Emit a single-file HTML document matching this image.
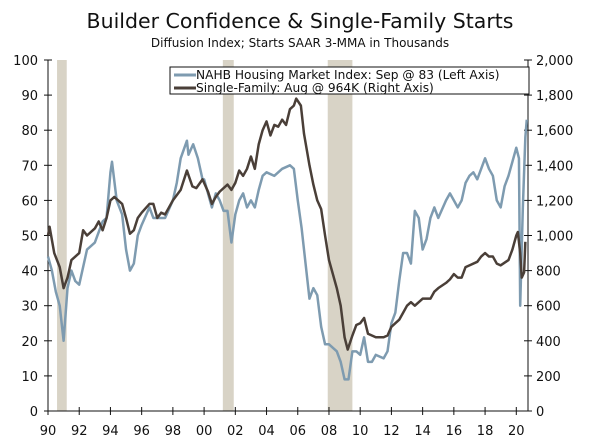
<!DOCTYPE html>
<html><head><meta charset="utf-8"><style>
body{margin:0;background:#fff;font-family:"DejaVu Sans","Liberation Sans",sans-serif;}
svg text{fill:#111;}
</style></head><body>
<svg id="chart" width="600" height="440" viewBox="0 0 600 440">
<text x="300" y="28" text-anchor="middle" font-size="20.5">Builder Confidence &amp; Single-Family Starts</text>
<text x="300" y="47" text-anchor="middle" font-size="12">Diffusion Index; Starts SAAR 3-MMA in Thousands</text>
<g id="rec"></g><g id="axes"></g><g id="lines"></g>
<g>
<rect x="170" y="67" width="359" height="27" fill="#fff" stroke="#111" stroke-width="1"/>
<line x1="174" y1="75" x2="196" y2="75" stroke="#7e9bb0" stroke-width="3"/>
<text x="196" y="79" font-size="12.2">NAHB Housing Market Index: Sep @ 83 (Left Axis)</text>
<line x1="174" y1="88" x2="196" y2="88" stroke="#4a3f38" stroke-width="3"/>
<text x="196" y="92" font-size="12.2">Single-Family: Aug @ 964K (Right Axis)</text>
</g>
</svg>
<script>
const recessions=[[1990.58,1991.2],[2001.2,2001.9],[2007.92,2009.5]];
const leftTicks=[0,10,20,30,40,50,60,70,80,90,100];
const rightTicks=["0","200","400","600","800","1,000","1,200","1,400","1,600","1,800","2,000"];
const rightTickValues=[0,200,400,600,800,1000,1200,1400,1600,1800,2000];
const yearTicks=[1990,1992,1994,1996,1998,2000,2002,2004,2006,2008,2010,2012,2014,2016,2018,2020];
const hmiX=[1990,1990.25,1990.5,1990.75,1991,1991.25,1991.5,1991.75,1992,1992.5,1993,1993.5,1993.75,1994,1994.1,1994.4,1994.75,1995,1995.25,1995.5,1995.75,1996,1996.5,1996.75,1997,1997.5,1998,1998.25,1998.5,1998.9,1999,1999.3,1999.6,1999.9,2000,2000.25,2000.5,2000.75,2001,2001.25,2001.5,2001.75,2002,2002.25,2002.5,2002.75,2003,2003.25,2003.5,2003.75,2004,2004.5,2005,2005.5,2005.75,2006,2006.25,2006.5,2006.75,2007,2007.25,2007.5,2007.75,2008,2008.5,2008.75,2009,2009.25,2009.5,2009.75,2010,2010.25,2010.5,2010.75,2011,2011.5,2011.75,2012,2012.25,2012.5,2012.75,2013,2013.25,2013.5,2013.75,2014,2014.25,2014.5,2014.75,2015,2015.5,2015.75,2016,2016.25,2016.5,2016.75,2017,2017.25,2017.5,2017.75,2018,2018.25,2018.5,2018.75,2019,2019.25,2019.5,2019.75,2020,2020.17,2020.25,2020.42,2020.58,2020.67];
const hmiV=[44,40,34,30,20,35,40,37,36,46,48,54,55,68,71,60,56,46,40,42,50,53,58,55,55,55,60,65,72,77,73,76,72,66,66,62,58,62,60,57,57,48,56,60,62,58,60,58,63,67,68,67,69,70,69,60,52,42,32,35,33,24,19,19,17,14,9,9,17,17,16,21,14,14,16,15,17,25,28,37,45,45,42,57,55,46,49,55,58,55,60,62,60,58,60,65,67,68,66,69,72,69,67,60,58,64,67,71,75,72,30,58,78,83];
const stX=[1990,1990.1,1990.4,1990.75,1991,1991.25,1991.5,1992,1992.25,1992.5,1993,1993.25,1993.5,1993.75,1994,1994.25,1994.5,1994.75,1995,1995.25,1995.5,1995.75,1996,1996.5,1996.75,1997,1997.25,1997.5,1997.75,1998,1998.5,1998.9,1999.25,1999.5,1999.9,2000.25,2000.5,2000.75,2001,2001.5,2001.75,2002,2002.25,2002.5,2002.75,2003,2003.25,2003.5,2003.75,2004,2004.25,2004.5,2004.75,2005,2005.25,2005.5,2005.75,2005.9,2006.2,2006.4,2006.75,2007,2007.25,2007.5,2007.75,2008,2008.5,2008.75,2009,2009.2,2009.5,2009.75,2010,2010.25,2010.5,2010.75,2011,2011.5,2011.75,2012,2012.5,2012.75,2013,2013.25,2013.5,2013.75,2014,2014.5,2014.75,2015,2015.5,2015.75,2016,2016.25,2016.5,2016.75,2017,2017.5,2017.75,2018,2018.25,2018.5,2018.75,2019,2019.5,2019.75,2020,2020.1,2020.25,2020.35,2020.5,2020.58];
const stV=[1000,1050,900,820,700,760,860,900,1030,1000,1040,1080,1030,1100,1200,1220,1200,1180,1100,1010,1030,1100,1130,1180,1180,1100,1130,1120,1160,1200,1260,1370,1280,1270,1320,1250,1180,1220,1250,1290,1260,1300,1370,1340,1380,1450,1380,1520,1600,1650,1570,1630,1620,1660,1630,1720,1740,1780,1740,1580,1400,1290,1200,1150,1000,860,700,600,420,350,430,490,500,530,440,430,420,420,430,480,520,560,600,620,600,620,640,640,680,700,730,750,780,760,760,820,830,850,880,900,880,880,840,830,860,920,1000,1020,900,760,790,964];
const NS="http://www.w3.org/2000/svg";
const X0=48,X1=528,YT=60,YB=411,T0=1990,T1=2020.75;
const xs=t=>X0+(t-T0)/(T1-T0)*(X1-X0);
const yl=v=>YB-v/100*(YB-YT);
const yr=v=>YB-v/2000*(YB-YT);
function mk(tag,attrs,parent){const e=document.createElementNS(NS,tag);for(const k in attrs)e.setAttribute(k,attrs[k]);parent.appendChild(e);return e;}
const rec=document.getElementById('rec'),axes=document.getElementById('axes'),lines=document.getElementById('lines');
recessions.forEach(r=>{const e=mk('rect',{x:xs(r[0]),y:YT,width:xs(r[1])-xs(r[0]),height:YB-YT,fill:'#d8d3c6'},rec);

});
let a=mk('path',{d:`M${X0},${YT}V${YB}H${X1}V${YT}`,fill:'none',stroke:'#111','stroke-width':1},axes);


leftTicks.forEach(v=>{mk('line',{x1:X0-4,x2:X0+4,y1:yl(v),y2:yl(v),stroke:'#111'},axes);
const t=mk('text',{x:X0-10,y:yl(v)+5,'text-anchor':'end','font-size':13},axes);t.textContent=v;

});
rightTickValues.forEach((v,i)=>{mk('line',{x1:X1-4,x2:X1+4,y1:yr(v),y2:yr(v),stroke:'#111'},axes);
const t=mk('text',{x:X1+8,y:yr(v)+5,'font-size':13},axes);t.textContent=rightTicks[i];

});
yearTicks.forEach(y=>{mk('line',{x1:xs(y),x2:xs(y),y1:YB-4,y2:YB+4,stroke:'#111'},axes);
const t=mk('text',{x:xs(y),y:YB+24,'text-anchor':'middle','font-size':13},axes);t.textContent=String(y).slice(2);

});
const h=mk('polyline',{points:hmiX.map((t,i)=>xs(t)+','+yl(hmiV[i])).join(' '),fill:'none',stroke:'#7e9bb0','stroke-width':2.5,'stroke-linejoin':'round'},lines);


const s=mk('polyline',{points:stX.map((t,i)=>xs(t)+','+yr(stV[i])).join(' '),fill:'none',stroke:'#4a3f38','stroke-width':2.5,'stroke-linejoin':'round'},lines);


</script>
</body></html>
